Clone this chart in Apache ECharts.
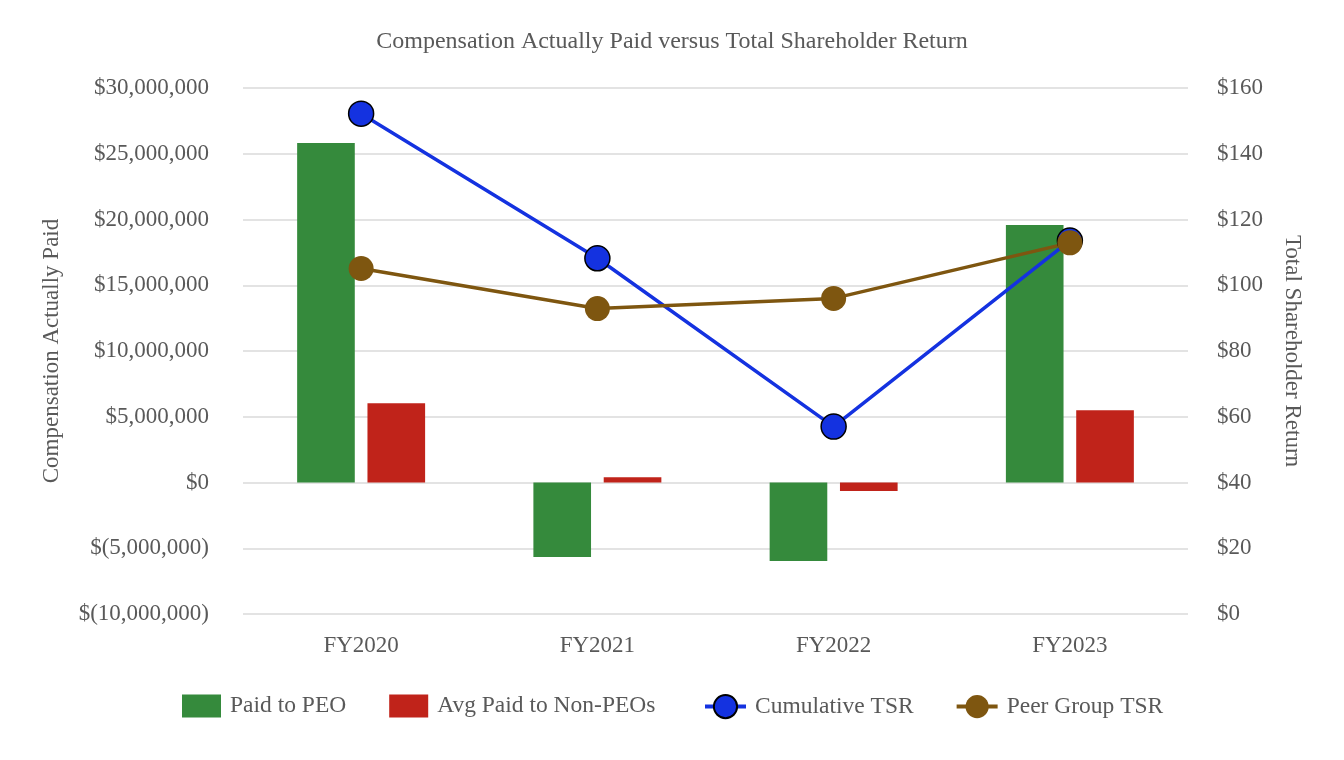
<!DOCTYPE html>
<html>
<head>
<meta charset="utf-8">
<script src="https://cdn.jsdelivr.net/npm/echarts@6/dist/echarts.min.js"></script>
<style>html,body{margin:0;padding:0;background:#fff}#c{width:1344px;height:760px}</style>
</head>
<body>
<div id="c"></div>
<script>
const categories = ['FY2020', 'FY2021', 'FY2022', 'FY2023'];
const paidToPEO = [25820000, -5660000, -5970000, 19580000];
const avgPaidNonPEO = [6030000, 400000, -640000, 5500000];
const cumulativeTSR = [152.2, 108.2, 57.0, 113.6];
const peerGroupTSR = [105.1, 92.9, 96.0, 112.9];

const FONT = '"Liberation Serif", "Times New Roman", serif';
const TXT = '#595959';

function money(v) {
  const s = Math.abs(v).toLocaleString('en-US');
  return v < 0 ? '$(' + s + ')' : '$' + s;
}

const chart = echarts.init(document.getElementById('c'));
chart.setOption({
  animation: false,
  backgroundColor: '#fff',
  textStyle: { fontFamily: FONT, color: TXT },
  title: {
    text: 'Compensation Actually Paid versus Total Shareholder Return',
    left: 'center', top: 25,
    textStyle: { fontFamily: FONT, fontSize: 24, fontWeight: 'normal', color: TXT }
  },
  grid: { left: 243, right: 156, top: 88, bottom: 146 },
  legend: [
    {
      top: 689, left: 177,
      itemGap: 43, itemWidth: 39, itemHeight: 23,
      textStyle: { fontFamily: FONT, fontSize: 23.5, color: TXT, padding: [0, 0, 0, 4] },
      data: [
        { name: 'Paid to PEO', icon: 'rect' },
        { name: 'Avg Paid to Non-PEOs', icon: 'rect' }
      ]
    },
    {
      top: 689, left: 698,
      itemGap: 41, itemWidth: 41, itemHeight: 29,
      lineStyle: { width: 4 },
      textStyle: { fontFamily: FONT, fontSize: 23.5, color: TXT, padding: [0, 0, 0, 4] },
      data: [
        { name: 'Cumulative TSR' },
        { name: 'Peer Group TSR' }
      ]
    }
  ],
  xAxis: {
    type: 'category', data: categories,
    axisLine: { show: false }, axisTick: { show: false },
    axisLabel: { fontFamily: FONT, fontSize: 23, color: TXT, margin: 20 }
  },
  yAxis: [
    {
      type: 'value', min: -10000000, max: 30000000, interval: 5000000,
      name: 'Compensation Actually Paid', nameLocation: 'middle', nameGap: 180,
      nameTextStyle: { fontFamily: FONT, fontSize: 23, color: TXT },
      axisLabel: { fontFamily: FONT, fontSize: 23, color: TXT, margin: 34, formatter: money },
      splitLine: { lineStyle: { color: '#e3e3e3', width: 2 } },
      axisLine: { show: false }, axisTick: { show: false }
    },
    {
      type: 'value', min: 0, max: 160, interval: 20, position: 'right',
      name: 'Total Shareholder Return', nameLocation: 'middle', nameGap: 93, nameRotate: -90,
      nameTextStyle: { fontFamily: FONT, fontSize: 23, color: TXT },
      axisLabel: { fontFamily: FONT, fontSize: 23, color: TXT, margin: 29, formatter: v => '$' + v },
      splitLine: { show: false },
      axisLine: { show: false }, axisTick: { show: false }
    }
  ],
  series: [
    {
      name: 'Paid to PEO', type: 'bar', data: paidToPEO,
      barWidth: '24.4%', barGap: '22%',
      itemStyle: { color: '#358a3c' }
    },
    {
      name: 'Avg Paid to Non-PEOs', type: 'bar', data: avgPaidNonPEO,
      barWidth: '24.4%', barGap: '22%',
      itemStyle: { color: '#c0231a' }
    },
    {
      name: 'Cumulative TSR', type: 'line', yAxisIndex: 1, data: cumulativeTSR,
      symbol: 'circle', symbolSize: 25,
      lineStyle: { color: '#1432e0', width: 3.5 },
      itemStyle: { color: '#1432e0', borderColor: '#000', borderWidth: 1.5 }
    },
    {
      name: 'Peer Group TSR', type: 'line', yAxisIndex: 1, data: peerGroupTSR,
      symbol: 'circle', symbolSize: 25,
      lineStyle: { color: '#7e5610', width: 3.5 },
      itemStyle: { color: '#7e5610', borderColor: '#7e5610', borderWidth: 0 }
    }
  ]
});
</script>
</body>
</html>
